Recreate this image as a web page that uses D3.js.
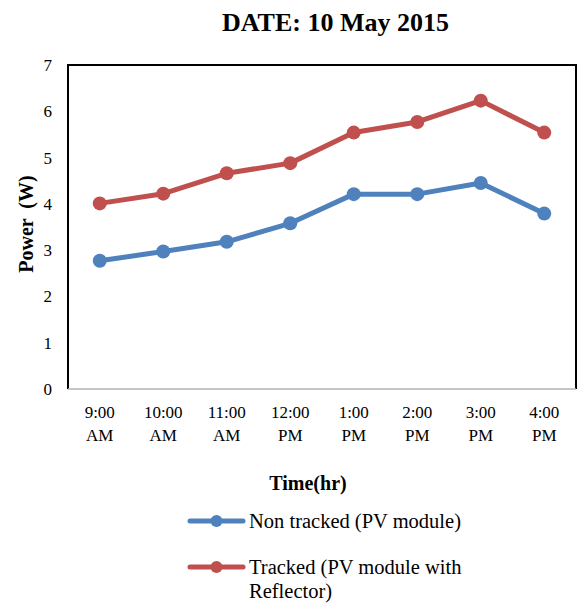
<!DOCTYPE html>
<html>
<head>
<meta charset="utf-8">
<script src="https://cdn.jsdelivr.net/npm/d3@7"></script>
<style>
  body { margin: 0; background: #fff; }
  text { font-family: "Liberation Serif", "Times New Roman", serif; fill: #000; }
</style>
</head>
<body>
<svg id="chart" width="577" height="604"></svg>
<script>
// Hourly readings
const timeLines = [["9:00", "AM"], ["10:00", "AM"], ["11:00", "AM"], ["12:00", "PM"],
                   ["1:00", "PM"], ["2:00", "PM"], ["3:00", "PM"], ["4:00", "PM"]];
const categories = timeLines.map(d => d.join(" "));
const nonTracked = [2.77, 2.97, 3.18, 3.58, 4.21, 4.21, 4.45, 3.79];
const tracked    = [4.01, 4.22, 4.66, 4.88, 5.54, 5.77, 6.23, 5.54];
const yTicks = [0, 1, 2, 3, 4, 5, 6, 7];

const seriesList = [
  { name: "Non tracked (PV module)", lines: ["Non tracked (PV module)"], values: nonTracked, color: "#4F81BD" },
  { name: "Tracked (PV module with Reflector)", lines: ["Tracked (PV module with", "Reflector)"], values: tracked, color: "#C0504D" }
];

const svg = d3.select("#chart");
const m = { left: 68, right: 576, top: 65, bottom: 389 };

const x = d3.scaleBand().domain(categories).range([m.left, m.right]);
const y = d3.scaleLinear().domain([0, 7]).range([m.bottom, m.top]);

// Title
svg.append("text").attr("x", 335.5).attr("y", 31).attr("text-anchor", "middle")
  .style("font-size", "26px").style("font-weight", "bold").text("DATE: 10 May 2015");

// Plot frame
svg.append("path")
  .attr("d", `M${m.left},${m.bottom} V${m.top} H${m.right} V${m.bottom}`)
  .attr("fill", "none").attr("stroke", "#000").attr("stroke-width", 2);

// X axis baseline
svg.append("line").attr("x1", m.left).attr("x2", m.right)
  .attr("y1", y(0)).attr("y2", y(0)).attr("stroke", "#b3b3b3").attr("stroke-width", 1.5);

// Y tick labels
svg.append("g").selectAll("text").data(yTicks).join("text")
  .attr("x", 52).attr("y", d => y(d) + 6).attr("text-anchor", "end")
  .style("font-size", "17px").text(d => d);

// X tick labels (two lines)
const xl = svg.append("g").selectAll("text").data(timeLines).join("text")
  .attr("text-anchor", "middle").style("font-size", "17px");
xl.each(function (d, i) {
  const t = d3.select(this);
  const cx = x(categories[i]) + x.bandwidth() / 2;
  t.append("tspan").attr("x", cx).attr("y", 418).text(d[0]);
  t.append("tspan").attr("x", cx).attr("y", 441).text(d[1]);
});

// Axis titles
svg.append("text").attr("x", 308).attr("y", 490).attr("text-anchor", "middle")
  .style("font-size", "20px").style("font-weight", "bold").text("Time(hr)");
svg.append("text").attr("transform", "translate(33,224) rotate(-90)").attr("text-anchor", "middle")
  .style("font-size", "20px").style("font-weight", "bold").style("white-space", "pre")
  .text("Power  (W)");

// Series lines and markers
const line = d3.line().x((d, i) => x(categories[i]) + x.bandwidth() / 2).y(d => y(d));
seriesList.forEach(s => {
  svg.append("path").datum(s.values).attr("d", line)
    .attr("fill", "none").attr("stroke", s.color).attr("stroke-width", 5)
    .attr("stroke-linejoin", "round");
  svg.append("g").selectAll("circle").data(s.values).join("circle")
    .attr("cx", (d, i) => x(categories[i]) + x.bandwidth() / 2)
    .attr("cy", d => y(d)).attr("r", 7).attr("fill", s.color);
});

// Legend
const legendY = [521, 567];
seriesList.forEach((s, i) => {
  const g = svg.append("g");
  g.append("line").attr("x1", 190).attr("x2", 243).attr("y1", legendY[i]).attr("y2", legendY[i])
    .attr("stroke", s.color).attr("stroke-width", 5).attr("stroke-linecap", "round");
  g.append("circle").attr("cx", 216.5).attr("cy", legendY[i]).attr("r", 6).attr("fill", s.color);
  const t = g.append("text").style("font-size", "20.5px");
  s.lines.forEach((ln, j) => {
    t.append("tspan").attr("x", 249).attr("y", legendY[i] + 7 + j * 23.5).text(ln);
  });
});
</script>
</body>
</html>
